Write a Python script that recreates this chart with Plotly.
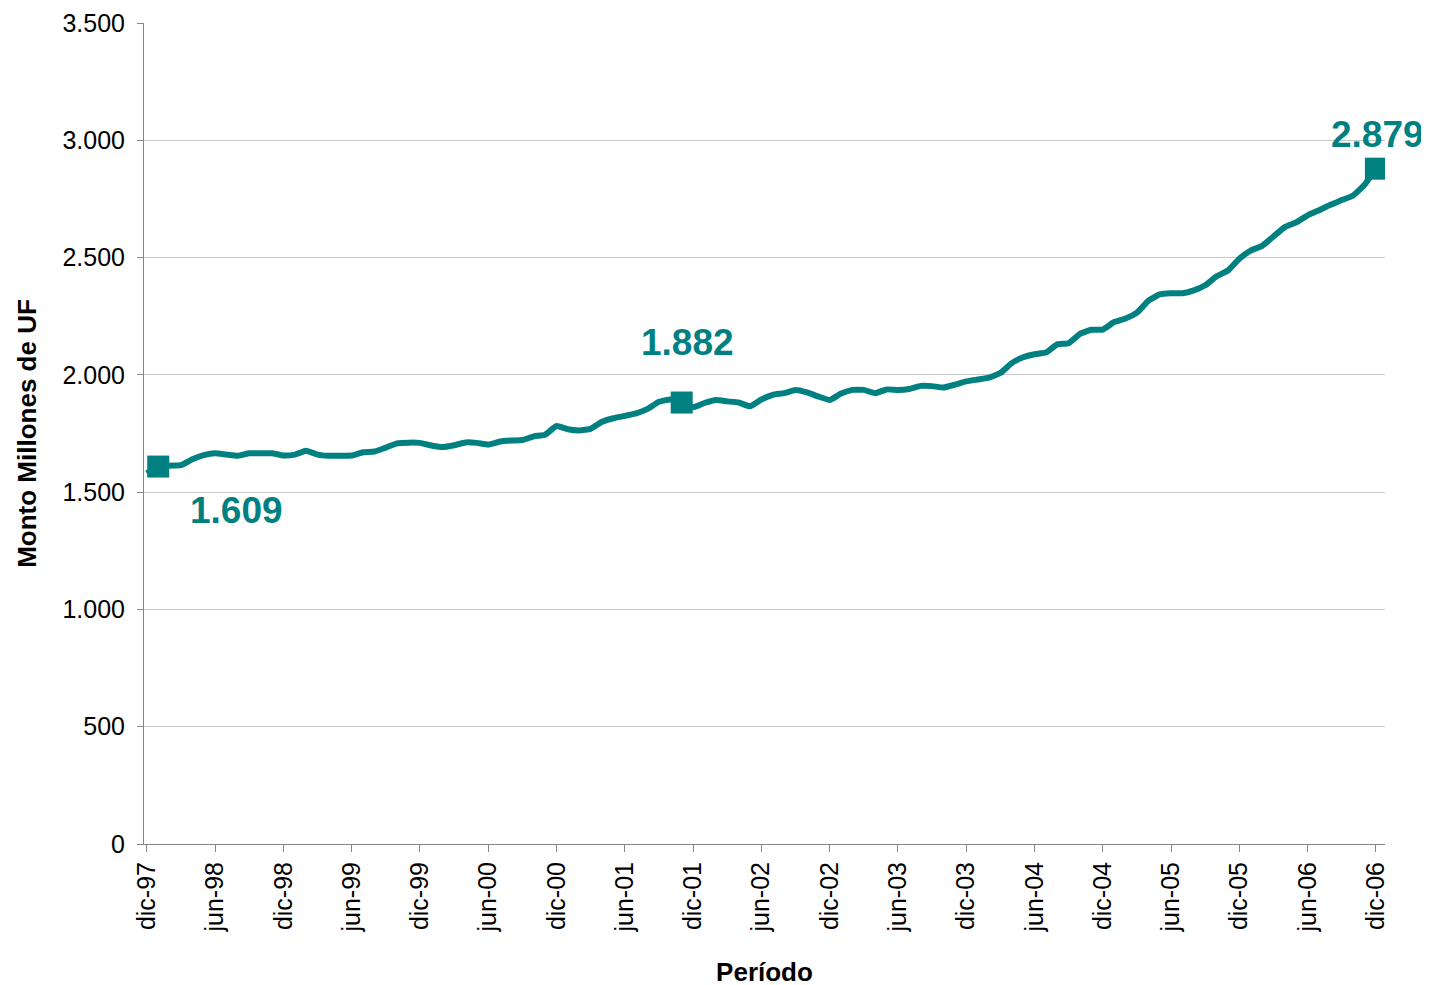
import plotly.graph_objects as go

# monthly amounts, dic-97 .. dic-06 (millones de UF)
meses = list(range(109))
monto = [
    1580, 1609, 1613, 1615, 1640, 1658, 1666, 1660, 1655, 1666,
    1666, 1666, 1656, 1660, 1676, 1660, 1655, 1655, 1656, 1670,
    1673, 1690, 1708, 1711, 1710, 1699, 1692, 1700, 1712, 1710,
    1703, 1715, 1720, 1722, 1738, 1745, 1782, 1768, 1763, 1770,
    1800, 1815, 1825, 1836, 1855, 1885, 1895, 1882, 1862, 1880,
    1893, 1887, 1882, 1866, 1895, 1915, 1922, 1935, 1925, 1908,
    1893, 1920, 1936, 1936, 1922, 1938, 1935, 1940, 1953, 1952,
    1946, 1958, 1972, 1980, 1988, 2008, 2050, 2075, 2088, 2095,
    2130, 2135, 2175, 2192, 2193, 2225, 2240, 2265, 2315, 2343,
    2348, 2348, 2360, 2382, 2420, 2445, 2495, 2530, 2550, 2590,
    2630, 2650, 2680, 2702, 2725, 2745, 2765, 2810, 2879,
]

# highlighted points
hito_mes = [1, 47, 108]
hito_valor = [1609, 1882, 2879]

tick_pos = list(range(0, 109, 6))
tick_txt = ["dic-97", "jun-98", "dic-98", "jun-99", "dic-99", "jun-00",
            "dic-00", "jun-01", "dic-01", "jun-02", "dic-02", "jun-03",
            "dic-03", "jun-04", "dic-04", "jun-05", "dic-05", "jun-06",
            "dic-06"]

TEAL = "#008080"
FONT = "Liberation Sans, Arial, sans-serif"

fig = go.Figure()

fig.add_trace(go.Scatter(
    x=meses, y=monto, mode="lines",
    line=dict(color=TEAL, width=6, shape="spline", smoothing=0.4),
    hoverinfo="skip", showlegend=False,
))

fig.add_trace(go.Scatter(
    x=hito_mes, y=hito_valor, mode="markers",
    marker=dict(symbol="square", size=22, color=TEAL),
    showlegend=False,
))

# value labels (x/y shift in px relative to marker)
shifts = [(78, -44), (6, 60), (2, 34)]
for mx, val, (dx, dy) in zip(hito_mes, hito_valor, shifts):
    fig.add_annotation(
        x=mx, y=val, xref="x", yref="y",
        text=f"{val:,}".replace(",", "."),
        showarrow=False, xshift=dx, yshift=dy,
        font=dict(family=FONT, size=37, color=TEAL, weight="bold"),
    )

# page body adds 8px, margins compensate for it
fig.update_layout(
    width=1429, height=985,
    margin=dict(l=136, r=52, t=15, b=149),
    plot_bgcolor="white", paper_bgcolor="white",
    separators=",.",
    font=dict(family=FONT, size=25, color="black"),
)

fig.update_xaxes(
    range=[-0.25, 108.8], automargin=False,
    tickmode="array", tickvals=tick_pos, ticktext=tick_txt,
    tickangle=-90,
    ticks="outside", ticklen=7, tickcolor="#868686",
    showline=True, linecolor="#868686", linewidth=1,
    showgrid=False, zeroline=False,
    title=dict(text="<b>Período</b>", font=dict(size=26), standoff=31),
)

fig.update_yaxes(
    range=[0, 3500], dtick=500, tickformat=",d", automargin=False,
    ticks="outside", ticklen=6, tickcolor="#868686",
    showline=True, linecolor="#868686", linewidth=1,
    showgrid=True, gridcolor="#c8c8c8", gridwidth=1,
    zeroline=False, ticklabelstandoff=7,
    title=dict(text="<b>Monto Millones de UF</b>", font=dict(size=26), standoff=18),
)

fig.write_html("out.html")
